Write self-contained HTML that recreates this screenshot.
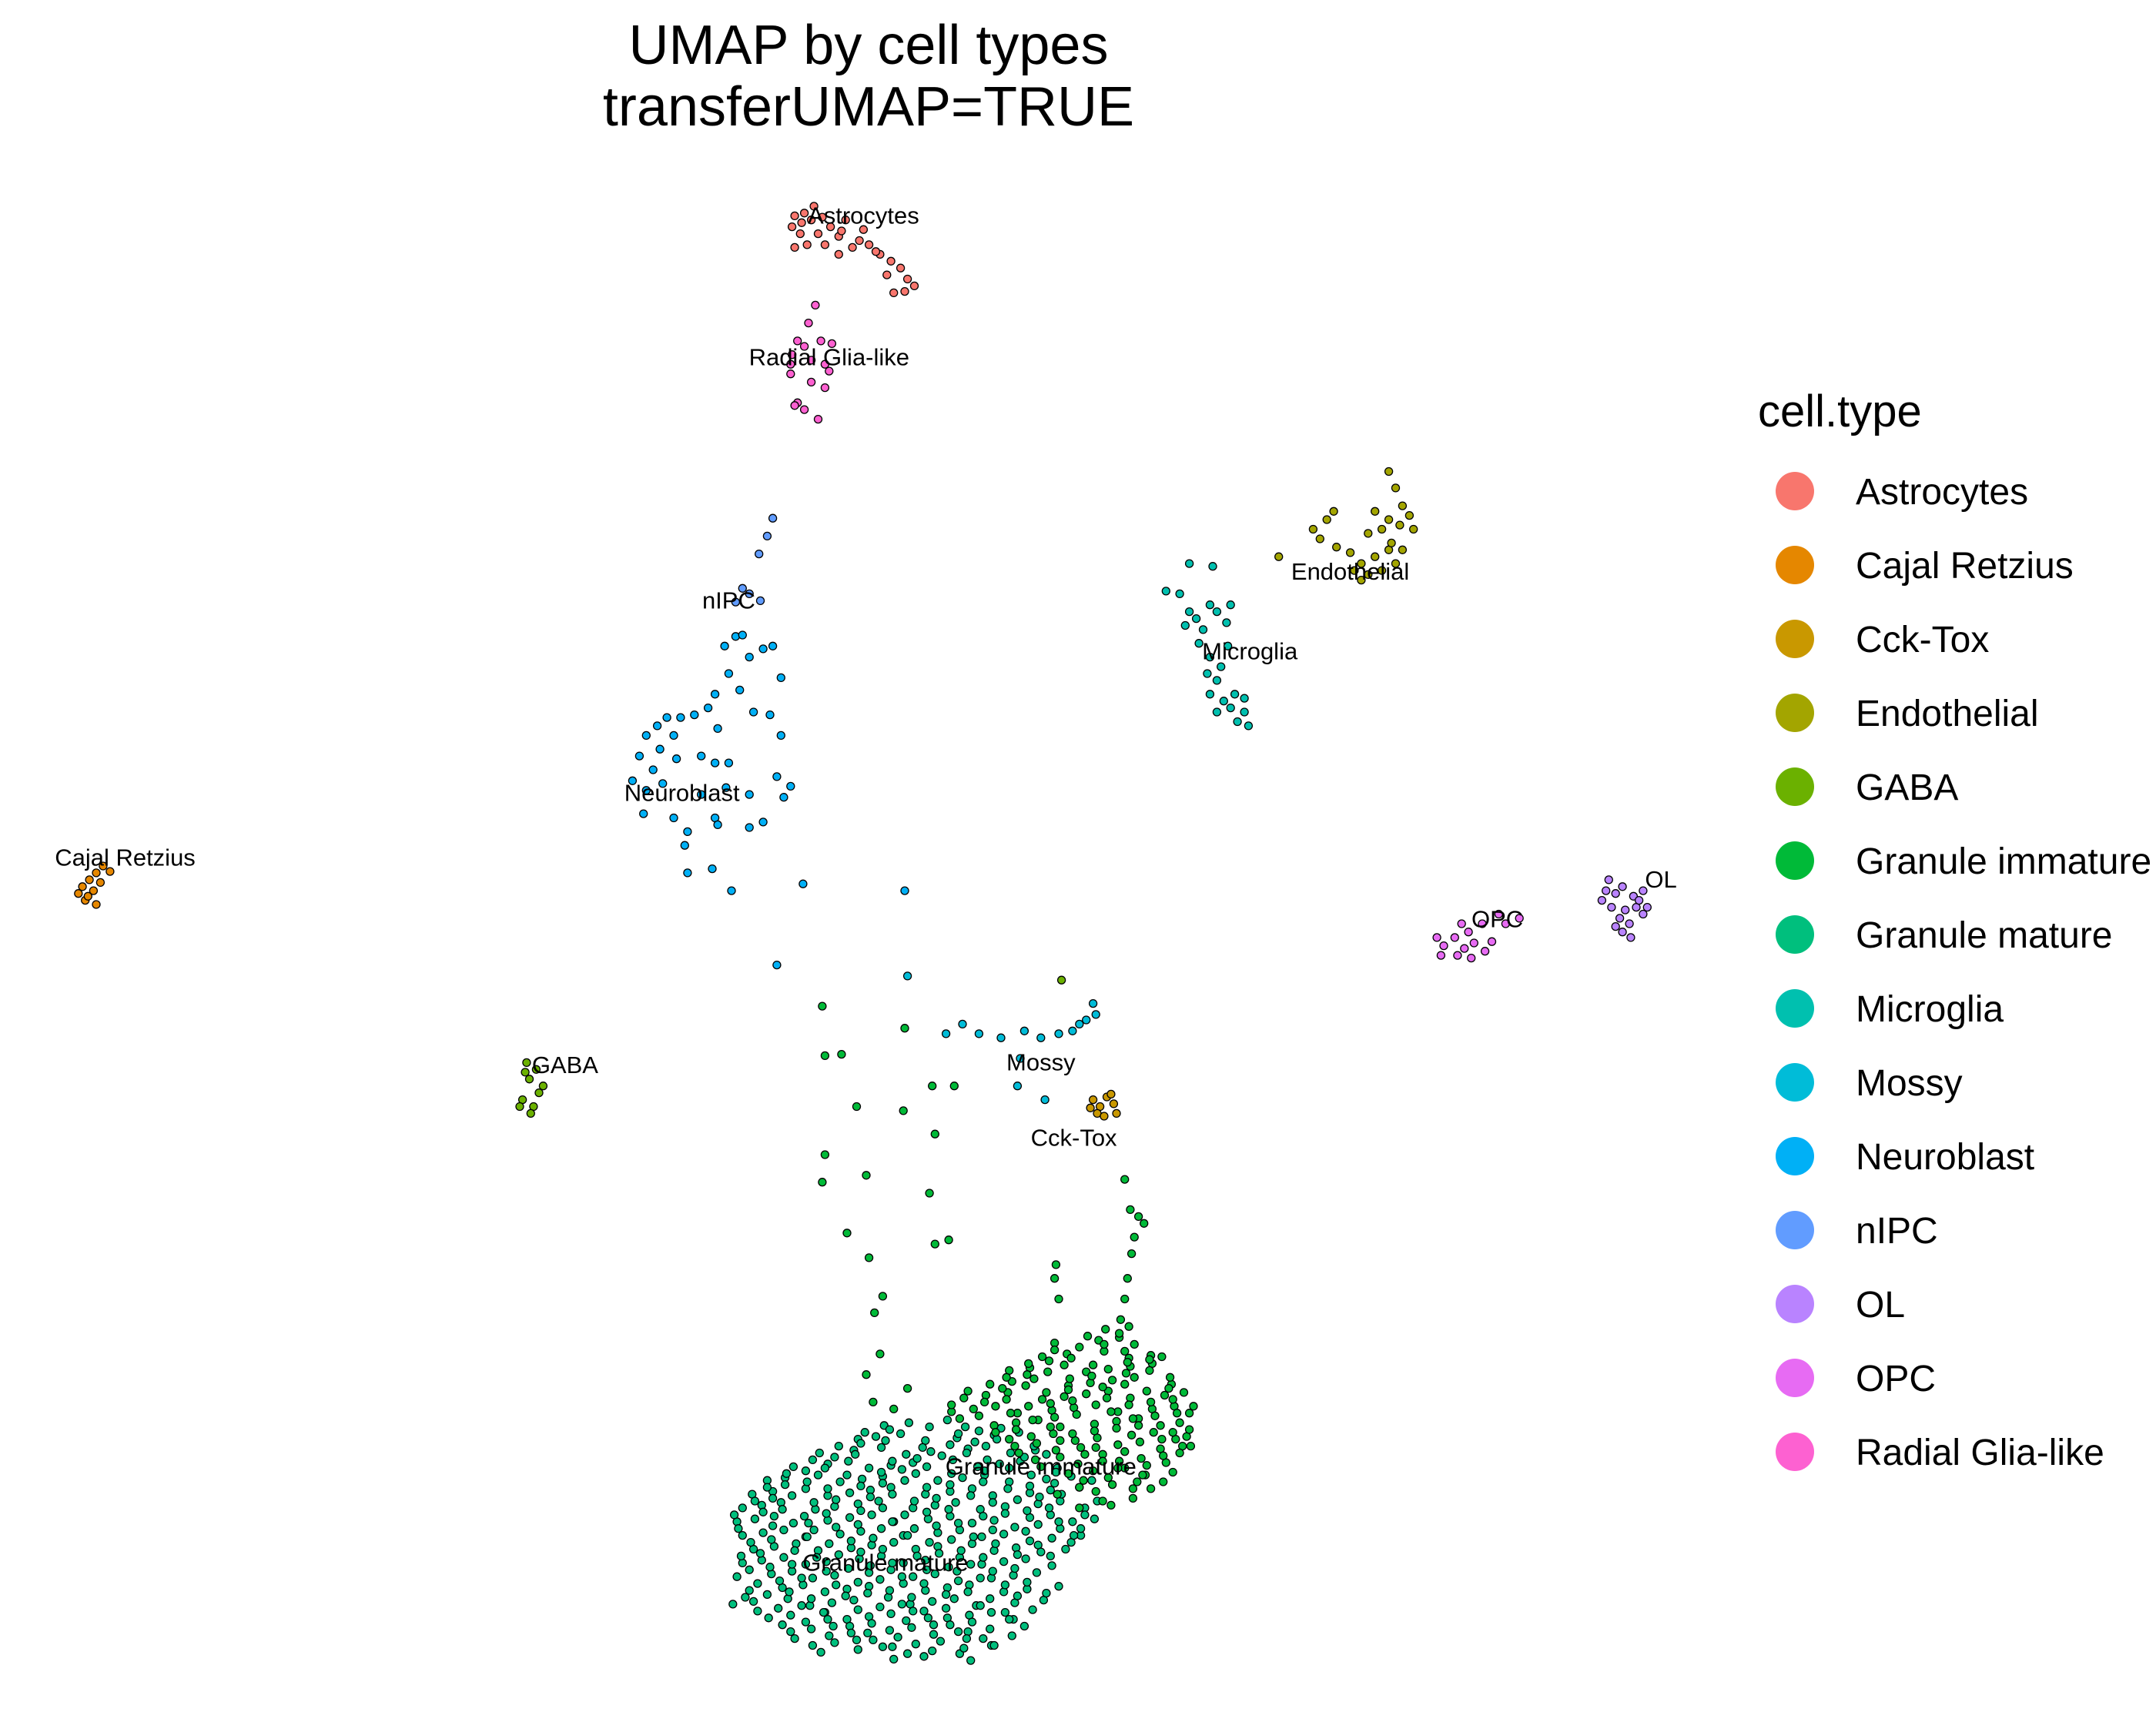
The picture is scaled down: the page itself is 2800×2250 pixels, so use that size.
<!DOCTYPE html>
<html><head><meta charset="utf-8"><style>
html,body{margin:0;padding:0;background:#fff;}
svg{display:block;font-family:"Liberation Sans",Arial,sans-serif;}
</style></head><body>
<svg id="chart" width="2800" height="2250" viewBox="0 0 2800 2250" xmlns="http://www.w3.org/2000/svg">
<rect width="2800" height="2250" fill="#fff"/>
<text x="1128" y="83" font-size="72" text-anchor="middle" fill="#000">UMAP by cell types</text>
<text x="1128" y="163" font-size="72" text-anchor="middle" fill="#000">transferUMAP=TRUE</text>
<g id="points"></g>
<g id="labels"></g>
<g id="legend">
<text x="2283" y="554" font-size="58" fill="#000">cell.type</text>
</g>
</svg>
<script>
const cellTypes=["Astrocytes","Cajal Retzius","Cck-Tox","Endothelial","GABA","Granule immature","Granule mature","Microglia","Mossy","Neuroblast","nIPC","OL","OPC","Radial Glia-like"];
const typeColors=["#F8766D","#E58700","#C99800","#A3A500","#6BB100","#00BA38","#00BF7D","#00C0AF","#00BCD8","#00B0F6","#619CFF","#B983FF","#E76BF3","#FD61D1"];

const astrocytes=[[578,157],[585,155],[590,160],[576,165],[582,170],[598,158],[604,165],[610,172],[600,178],[587,178],[578,180],[615,160],[628,167],[620,180],[632,178],[640,185],[648,190],[655,195],[660,203],[665,208],[650,213],[658,212],[645,200],[610,185],[595,170],[583,162],[612,168],[625,175],[637,183],[592,150]];
const radialGlia=[[593,222],[588,235],[580,248],[585,252],[597,248],[605,250],[576,258],[590,262],[600,265],[575,272],[590,278],[600,282],[580,293],[585,298],[578,295],[595,305],[575,265],[603,270]];
const nipc=[[562,377],[558,390],[552,403],[540,428],[545,432],[553,437],[535,438]];
const neuroblast=[[535,463],[540,462],[527,470],[555,472],[545,478],[568,493],[530,490],[520,505],[538,502],[548,518],[515,515],[505,520],[495,522],[485,522],[478,528],[470,535],[490,535],[522,530],[510,550],[520,555],[530,555],[465,550],[480,545],[492,552],[475,560],[460,568],[470,575],[482,570],[510,578],[528,573],[545,578],[565,565],[575,572],[570,580],[555,598],[468,592],[490,595],[500,605],[520,595],[522,600],[498,615],[500,635],[518,632],[532,648],[568,535],[560,520],[562,470],[584,643],[565,702],[545,602],[658,648]];
const cajal=[[60,645],[65,640],[70,635],[75,630],[80,634],[57,650],[62,655],[68,648],[73,642],[70,658],[64,652]];
const gaba=[[383,773],[390,778],[385,785],[395,790],[380,800],[388,805],[392,795],[386,810],[382,780],[378,805],[772,713]];
const mossy=[[785,745],[790,742],[797,738],[795,730],[780,750],[770,752],[757,755],[745,750],[728,755],[712,752],[700,745],[688,752],[660,710],[740,790],[760,800],[742,770]];
const cckTox=[[795,800],[800,805],[805,798],[810,803],[812,810],[798,810],[803,812],[793,806],[808,796]];
const endothelial=[[1010,343],[1015,355],[1020,368],[1025,375],[1010,378],[1000,372],[1018,382],[1028,385],[1005,385],[995,388],[970,372],[965,378],[955,385],[960,392],[972,398],[982,402],[990,410],[1000,405],[1010,400],[1020,400],[1015,410],[995,418],[990,422],[985,415],[1005,415],[930,405],[1012,395]];
const microglia=[[848,430],[858,432],[865,410],[882,412],[880,440],[885,445],[895,440],[870,450],[875,458],[862,455],[872,468],[880,478],[878,490],[885,495],[890,510],[898,505],[905,518],[900,525],[908,528],[895,515],[885,518],[880,505],[905,508],[888,485],[865,445],[893,470],[892,453]];
const ol=[[1170,640],[1175,650],[1180,645],[1188,652],[1195,648],[1165,655],[1172,660],[1182,662],[1190,660],[1178,668],[1185,672],[1195,665],[1180,678],[1186,682],[1175,674],[1192,655],[1198,660],[1168,648]];
const opc=[[1050,688],[1058,682],[1065,690],[1072,686],[1080,692],[1085,685],[1095,672],[1105,668],[1090,665],[1078,672],[1068,678],[1060,695],[1048,695],[1070,697],[1063,672],[1045,682]];
const granuleImmatureTrail=[[598,732],[600,768],[612,767],[623,805],[657,808],[678,790],[694,790],[680,825],[600,840],[598,860],[630,855],[616,897],[632,915],[642,943],[636,955],[676,868],[680,905],[690,902],[658,748],[818,858],[822,880],[828,885],[832,890],[825,900],[823,912],[820,930],[818,945],[815,960],[768,920],[767,930],[770,945],[630,1000],[640,985],[660,1010],[650,1025],[635,1020]];
// big clusters: rows of [y, x1, x2, ...]
const immatureRows=[[965,808,818],[975,770,795,812,825],[985,760,780,800,820,838],[995,735,752,770,788,806,824,842],[1005,720,738,756,774,792,810,828,848],[1015,700,718,736,754,772,790,808,826,844,860],[1025,690,708,726,744,762,780,798,816,834,852,865],[1035,720,738,756,774,792,810,828,846,862],[1045,730,748,766,784,802,820,838,856,866],[1055,745,765,785,803,821,840,858],[1065,760,780,800,818,836,852],[1075,790,810,830,845],[1085,770,800,820],[1095,785,810]];
const immatureRows2=[[970,790,815],[980,765,785,805,822],[990,745,762,780,798,816,834,845],[1000,728,745,762,780,798,816,835,852],[1010,708,726,745,762,780,798,816,834,852],[1020,695,712,730,748,766,784,802,820,838,856,864],[1030,700,716,732,750,768,786,804,822,840,858],[1040,725,742,760,778,796,814,832,850,864],[1050,738,756,775,794,812,830,848,862],[1060,752,772,792,810,828,846,860],[1070,775,795,815,835,850],[1080,782,808,828,840],[1090,798,822]];
const matureRows=[[1035,640,660,690,705],[1045,620,635,655,675,700,720,740],[1055,600,618,640,660,680,700,715,735,755],[1065,580,598,615,632,650,668,690,710,728,745,765],[1075,560,575,592,610,628,645,662,680,700,718,738,758,778],[1085,548,565,582,600,618,635,652,670,690,708,725,745,762,785],[1095,540,556,572,590,606,625,642,660,678,695,715,735,752,770,790],[1105,535,550,566,584,600,618,636,654,672,690,708,726,745,762,780,798],[1115,538,555,572,590,608,625,642,660,678,696,714,732,750,768,785],[1125,545,562,580,598,615,632,650,668,686,704,722,740,758,775],[1135,536,552,570,588,605,622,640,658,676,694,712,730,748,768],[1145,540,558,575,592,610,628,646,664,682,700,718,736,755],[1155,548,565,582,600,618,636,654,672,690,708,726,745,770],[1165,535,552,570,588,606,624,642,660,678,696,714,735,758],[1175,560,578,596,614,632,650,668,686,704,722,740],[1185,575,592,610,628,646,664,682,700,718,745],[1195,590,608,626,645,664,684,705,725],[1205,648,672,700,710]];
const matureRows2=[[1040,630,650,672,695,712,730],[1050,610,628,648,668,690,710,728,748],[1060,590,608,625,645,665,685,705,722,742,760],[1070,570,586,602,620,638,655,675,695,712,732,750,770],[1080,555,570,588,605,622,640,658,676,695,712,732,750,770,790],[1090,545,560,576,594,612,630,648,666,684,702,720,740,758,776,795],[1100,538,552,568,586,604,622,640,658,676,694,712,730,748,766,785],[1110,540,558,575,592,610,628,646,664,682,700,718,736,755,772,790],[1120,548,565,584,602,620,638,656,674,692,710,728,746,764,782],[1130,540,556,574,592,610,628,646,664,682,700,718,736,755,775],[1140,545,562,580,598,616,634,652,670,688,706,724,742,762],[1150,550,568,586,604,622,640,658,676,694,712,732,750],[1160,540,558,576,594,612,630,648,666,684,702,720,742,765],[1170,548,565,584,602,620,638,656,674,692,710,730,752],[1180,565,584,602,620,638,656,674,692,710,730],[1190,582,600,618,636,656,675,695,715,738],[1200,600,620,640,660,680,705,720]];
const labelNames=["Astrocytes","Radial Glia-like","nIPC","Neuroblast","Cajal Retzius","GABA","Mossy","Cck-Tox","Endothelial","Microglia","OL","OPC","Granule immature","Granule mature"];
const labelX=[628,603,530,496,91,411,757,781,982,909,1208,1089,757,644];
const labelY=[157,260,437,577,624,775,773,828,416,474,640,669,1067,1137];

const SCX=2800/1568, SCY=2250/1260;
function xScale(v){return v*SCX;}
function yScale(v){return v*SCY;}
const NS="http://www.w3.org/2000/svg";
const pg=document.getElementById('points');
function rowsToPts(rows){const out=[];rows.forEach(r=>{for(let i=1;i<r.length;i++){out.push([r[i]+((i*7+r[0])%9)-4,r[0]+((i*5)%7)-3]);}});return out;}
const series=[
 [6,rowsToPts(matureRows)],[6,rowsToPts(matureRows2)],[5,rowsToPts(immatureRows)],[5,rowsToPts(immatureRows2)],[5,granuleImmatureTrail],
 [0,astrocytes],[13,radialGlia],[10,nipc],[9,neuroblast],[1,cajal],[4,gaba],[8,mossy],[2,cckTox],[3,endothelial],[7,microglia],[11,ol],[12,opc]];
series.forEach(([ti,pts])=>{
 pts.forEach(p=>{
  const c=document.createElementNS(NS,'circle');
  
  
  c.setAttribute('cx',xScale(p[0]).toFixed(1));
  c.setAttribute('cy',yScale(p[1]).toFixed(1));
  c.setAttribute('r','5');
  c.setAttribute('fill',typeColors[ti]);
  c.setAttribute('stroke','#000');
  c.setAttribute('stroke-width','1.3');
  pg.appendChild(c);
 });
});
const lg=document.getElementById('labels');
labelNames.forEach((n,i)=>{
 const t=document.createElementNS(NS,'text');
 
 
 t.setAttribute('x',xScale(labelX[i]).toFixed(1));
 t.setAttribute('y',(yScale(labelY[i])+10).toFixed(1));
 t.setAttribute('font-size','31');
 t.setAttribute('text-anchor','middle');
 t.textContent=n;
 lg.appendChild(t);
});
const leg=document.getElementById('legend');
cellTypes.forEach((n,i)=>{
 const cy=638+i*96;
 const c=document.createElementNS(NS,'circle');
 
 
 c.setAttribute('cx','2331');c.setAttribute('cy',cy);c.setAttribute('r','25');
 c.setAttribute('fill',typeColors[i]);
 leg.appendChild(c);
 const t=document.createElementNS(NS,'text');
 
 
 t.setAttribute('x','2410');t.setAttribute('y',cy+17);
 t.setAttribute('font-size','48');
 t.textContent=n;
 leg.appendChild(t);
});
</script>
</body></html>
